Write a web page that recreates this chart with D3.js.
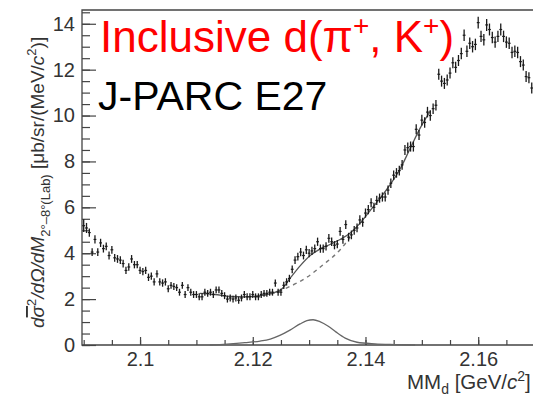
<!DOCTYPE html>
<html lang="en">
<head>
<meta charset="utf-8">
<script src="https://d3js.org/d3.v7.min.js"></script>
<title>Inclusive d(pi+, K+) spectrum</title>
<style>
  body { margin: 0; background: #fff; }
  text { font-family: "Liberation Sans", Arial, sans-serif; }
</style>
</head>
<body>
<svg width="533" height="402"></svg>
<script>

// bin centres start at 2.0900 GeV, 0.5 MeV wide
var massStart = 2.0900, binWidth = 0.0005;

// cross section per bin
var yields = [
  5.2, 5.1, 4.9, 4.05, 4.6, 4.05, 4.45, 4.2, 4.3, 3.9,
  4.15, 3.8, 3.75, 3.7, 3.55, 3.25, 3.4, 3.75, 3.5, 3.5,
  3.25, 3.2, 3.25, 2.95, 3.0, 2.75, 3.1, 2.75, 2.7, 2.75,
  2.45, 2.6, 2.55, 2.5, 2.3, 2.6, 2.2, 2.5, 2.3, 2.2,
  2.2, 2.1, 2.1, 2.3, 2.25, 2.3, 2.2, 2.4, 2.4, 2.25,
  2.15, 2.0, 2.05, 2.0, 2.05, 1.95, 2.05, 2.2, 2.1, 2.1,
  2.2, 2.1, 2.1, 2.2, 2.25, 2.25, 2.3, 2.3, 2.7, 2.3,
  2.3, 2.6, 2.75, 2.9, 3.3, 3.7, 3.85, 4.05, 3.9, 4.15,
  4.0, 4.1, 4.2, 4.5, 4.2, 4.2, 4.3, 4.65, 4.5, 4.35,
  4.4, 4.95, 4.6, 5.25, 4.7, 4.8, 5.0, 5.1, 5.45, 5.35,
  5.75, 5.9, 6.2, 6.0, 6.3, 6.4, 6.45, 6.45, 6.75, 7.05,
  7.4, 7.5, 7.6, 7.85, 8.5, 8.6, 8.65, 8.65, 9.4, 9.15,
  9.8, 9.7, 10.15, 10.0, 10.3, 10.45, 11.8, 11.5, 11.4, 11.55,
  11.85, 12.3, 12.1, 12.4, 12.7, 13.5, 12.8, 13.15, 13.0, 13.1,
  14.05, 13.45, 13.3, 13.95, 13.75, 13.4, 13.2, 13.45, 13.75, 13.45,
  13.2, 13.15, 12.75, 12.8, 12.75, 12.35, 12.2, 11.7, 11.65, 11.2
];

// statistical error per bin
var errors = [
  0.28, 0.22, 0.18, 0.17, 0.18, 0.17, 0.18, 0.17, 0.17, 0.17,
  0.17, 0.17, 0.17, 0.17, 0.17, 0.16, 0.16, 0.17, 0.16, 0.16,
  0.16, 0.16, 0.16, 0.16, 0.16, 0.16, 0.16, 0.16, 0.16, 0.16,
  0.15, 0.15, 0.15, 0.15, 0.15, 0.15, 0.15, 0.15, 0.15, 0.15,
  0.15, 0.15, 0.15, 0.15, 0.15, 0.15, 0.15, 0.15, 0.15, 0.15,
  0.15, 0.15, 0.15, 0.15, 0.15, 0.15, 0.15, 0.15, 0.15, 0.15,
  0.15, 0.15, 0.15, 0.15, 0.15, 0.15, 0.15, 0.15, 0.16, 0.15,
  0.15, 0.16, 0.16, 0.16, 0.17, 0.17, 0.17, 0.18, 0.17, 0.18,
  0.18, 0.18, 0.18, 0.18, 0.18, 0.18, 0.18, 0.19, 0.18, 0.18,
  0.18, 0.19, 0.19, 0.19, 0.19, 0.19, 0.19, 0.19, 0.2, 0.2,
  0.2, 0.2, 0.2, 0.2, 0.2, 0.2, 0.2, 0.2, 0.2, 0.21,
  0.21, 0.21, 0.21, 0.21, 0.22, 0.22, 0.22, 0.22, 0.22, 0.22,
  0.23, 0.23, 0.23, 0.23, 0.23, 0.23, 0.24, 0.24, 0.24, 0.24,
  0.24, 0.24, 0.24, 0.24, 0.25, 0.25, 0.25, 0.25, 0.25, 0.25,
  0.26, 0.25, 0.25, 0.26, 0.26, 0.25, 0.25, 0.25, 0.26, 0.25,
  0.25, 0.25, 0.25, 0.25, 0.25, 0.24, 0.24, 0.24, 0.24, 0.24
];

// fit curves: [mass, value]
var totalFit = [
  [2.1106, 2.25], [2.1133, 2.2], [2.1160, 2.12], [2.1186, 2.1], [2.1213, 2.15],
  [2.1234, 2.25], [2.1252, 2.45], [2.1266, 2.9], [2.1284, 3.45], [2.1302, 3.9],
  [2.1319, 4.18], [2.1337, 4.38], [2.1355, 4.6], [2.1373, 4.88], [2.1390, 5.3],
  [2.1408, 5.85], [2.1426, 6.4], [2.1444, 7.0], [2.1461, 7.65], [2.1479, 8.55],
  [2.1497, 9.45], [2.1515, 10.2]
];
var backgroundFit = [
  [2.1204, 2.12], [2.1240, 2.28], [2.1266, 2.55], [2.1296, 2.95],
  [2.1325, 3.5], [2.1355, 4.15], [2.1373, 4.7]
];
var signalFit = [
  [2.1124, 0.0], [2.1154, 0.04], [2.1186, 0.1], [2.1213, 0.17], [2.1231, 0.26],
  [2.1248, 0.42], [2.1266, 0.65], [2.1284, 0.92], [2.1296, 1.06], [2.1307, 1.1],
  [2.1319, 1.02], [2.1334, 0.82], [2.1348, 0.56], [2.1364, 0.3], [2.1385, 0.12],
  [2.1417, 0.05], [2.1452, 0.02], [2.1488, 0.0]
];

var xMajor = [2.1, 2.12, 2.14, 2.16];
var yMajor = [0, 2, 4, 6, 8, 10, 12, 14];

var svg = d3.select("svg");
svg.append("rect").attr("width", 533).attr("height", 402).attr("fill", "#fff");

var frameL = 82, frameR = 534, frameT = 10, frameB = 345;

var x = d3.scaleLinear().domain([2.0897, 2.1699]).range([frameL, frameR]);
var y = d3.scaleLinear().domain([0, 14.6]).range([frameB, frameT]);

var xMinor = d3.range(2.09, 2.1701, 0.005).map(function (d) { return +d.toFixed(3); });
var yMinor = d3.range(0, 14.51, 0.5);

var axisColor = "#444";

// y axis: inward ticks + labels
svg.append("g")
  .attr("transform", "translate(" + frameL + ",0)")
  .call(d3.axisRight(y).tickValues(yMinor).tickSize(8).tickFormat(""))
  .call(function (g) { g.select(".domain").remove(); });
svg.append("g")
  .attr("transform", "translate(" + frameL + ",0)")
  .call(d3.axisRight(y).tickValues(yMajor).tickSize(14).tickFormat(""))
  .call(function (g) { g.select(".domain").remove(); });
svg.append("g")
  .attr("transform", "translate(" + frameL + ",0)")
  .call(d3.axisLeft(y).tickValues(yMajor).tickSize(0).tickPadding(7).tickFormat(d3.format("d")))
  .call(function (g) { g.select(".domain").remove(); });

// x axis
svg.append("g")
  .attr("transform", "translate(0," + frameB + ")")
  .call(d3.axisTop(x).tickValues(xMinor).tickSize(5).tickFormat(""))
  .call(function (g) { g.select(".domain").remove(); });
svg.append("g")
  .attr("transform", "translate(0," + frameB + ")")
  .call(d3.axisTop(x).tickValues(xMajor).tickSize(8).tickFormat(""))
  .call(function (g) { g.select(".domain").remove(); });
svg.append("g")
  .attr("transform", "translate(0," + frameB + ")")
  .call(d3.axisBottom(x).tickValues(xMajor).tickSize(0).tickPadding(7).tickFormat(d3.format("")))
  .call(function (g) { g.select(".domain").remove(); });

svg.selectAll(".tick line").attr("stroke", axisColor).attr("stroke-width", 1.2);
svg.selectAll(".tick text").attr("fill", "#333").style("font-size", "20px")
  .style("font-family", "'Liberation Sans', Arial, sans-serif");

// frame
svg.append("path")
  .attr("d", "M" + frameR + "," + frameT + "H" + frameL + "V" + frameB + "H" + frameR)
  .attr("fill", "none").attr("stroke", axisColor).attr("stroke-width", 1.3);

var plot = svg.append("g");

var line = d3.line()
  .x(function (d) { return x(d[0]); })
  .y(function (d) { return y(d[1]); })
  .curve(d3.curveMonotoneX);

// signal peak
plot.append("path").datum(signalFit).attr("d", line)
  .attr("fill", "none").attr("stroke", "#666").attr("stroke-width", 1.3);

// background (dashed)
plot.append("path").datum(backgroundFit).attr("d", line)
  .attr("fill", "none").attr("stroke", "#777").attr("stroke-width", 1.4)
  .attr("stroke-dasharray", "4,4");

// total fit
plot.append("path").datum(totalFit).attr("d", line)
  .attr("fill", "none").attr("stroke", "#555").attr("stroke-width", 1.3);

// data crosses
var pts = plot.selectAll("g.pt")
  .data(yields.map(function (v, i) { return { m: massStart + i * binWidth, v: v, e: errors[i] }; }))
  .enter().append("g").attr("class", "pt");

pts.append("line")
  .attr("x1", function (d) { return x(d.m); })
  .attr("x2", function (d) { return x(d.m); })
  .attr("y1", function (d) { return y(d.v - d.e); })
  .attr("y2", function (d) { return y(d.v + d.e); })
  .attr("stroke", "#1a1a1a").attr("stroke-width", 1.3);

pts.append("line")
  .attr("x1", function (d) { return x(d.m - binWidth / 2); })
  .attr("x2", function (d) { return x(d.m + binWidth / 2); })
  .attr("y1", function (d) { return y(d.v); })
  .attr("y2", function (d) { return y(d.v); })
  .attr("stroke", "#1a1a1a").attr("stroke-width", 1.2);

// axis titles
var yt = svg.append("text")
  .attr("transform", "translate(44,328) rotate(-90)")
  .attr("fill", "#333")
  .style("font-size", "19px");
yt.append("tspan").style("font-style", "italic").text("d");
yt.append("tspan").style("font-style", "italic").style("text-decoration", "overline").text("σ");
yt.append("tspan").attr("dy", -8).style("font-size", "13px").text("2");
yt.append("tspan").attr("dy", 8).style("font-style", "italic").text("/dΩ/dM");
yt.append("tspan").attr("dy", 6).style("font-size", "13px").text("2°–8°(Lab)");
yt.append("tspan").attr("dy", -6).text(" [μb/sr/(MeV/");
yt.append("tspan").style("font-style", "italic").text("c");
yt.append("tspan").attr("dy", -8).style("font-size", "13px").text("2");
yt.append("tspan").attr("dy", 8).text(")]");

var xt = svg.append("text")
  .attr("x", 407).attr("y", 389)
  .attr("fill", "#333")
  .style("font-size", "20.5px");
xt.append("tspan").text("MM");
xt.append("tspan").attr("dy", 5).style("font-size", "14px").text("d");
xt.append("tspan").attr("dy", -5).text(" [GeV/");
xt.append("tspan").style("font-style", "italic").text("c");
xt.append("tspan").attr("dy", -8).style("font-size", "14px").text("2");
xt.append("tspan").attr("dy", 8).text("]");

// title
var t1 = svg.append("text")
  .attr("x", 100).attr("y", 52)
  .attr("fill", "#ff0000")
  .style("font-size", "44px");
t1.append("tspan").text("Inclusive d(π");
t1.append("tspan").attr("dy", -17).style("font-size", "28px").text("+");
t1.append("tspan").attr("dy", 17).text(", K");
t1.append("tspan").attr("dy", -17).style("font-size", "28px").text("+");
t1.append("tspan").attr("dy", 17).text(")");

svg.append("text")
  .attr("x", 98).attr("y", 110)
  .attr("fill", "#000")
  .style("font-size", "41px")
  .text("J-PARC E27");

</script>
</body>
</html>
